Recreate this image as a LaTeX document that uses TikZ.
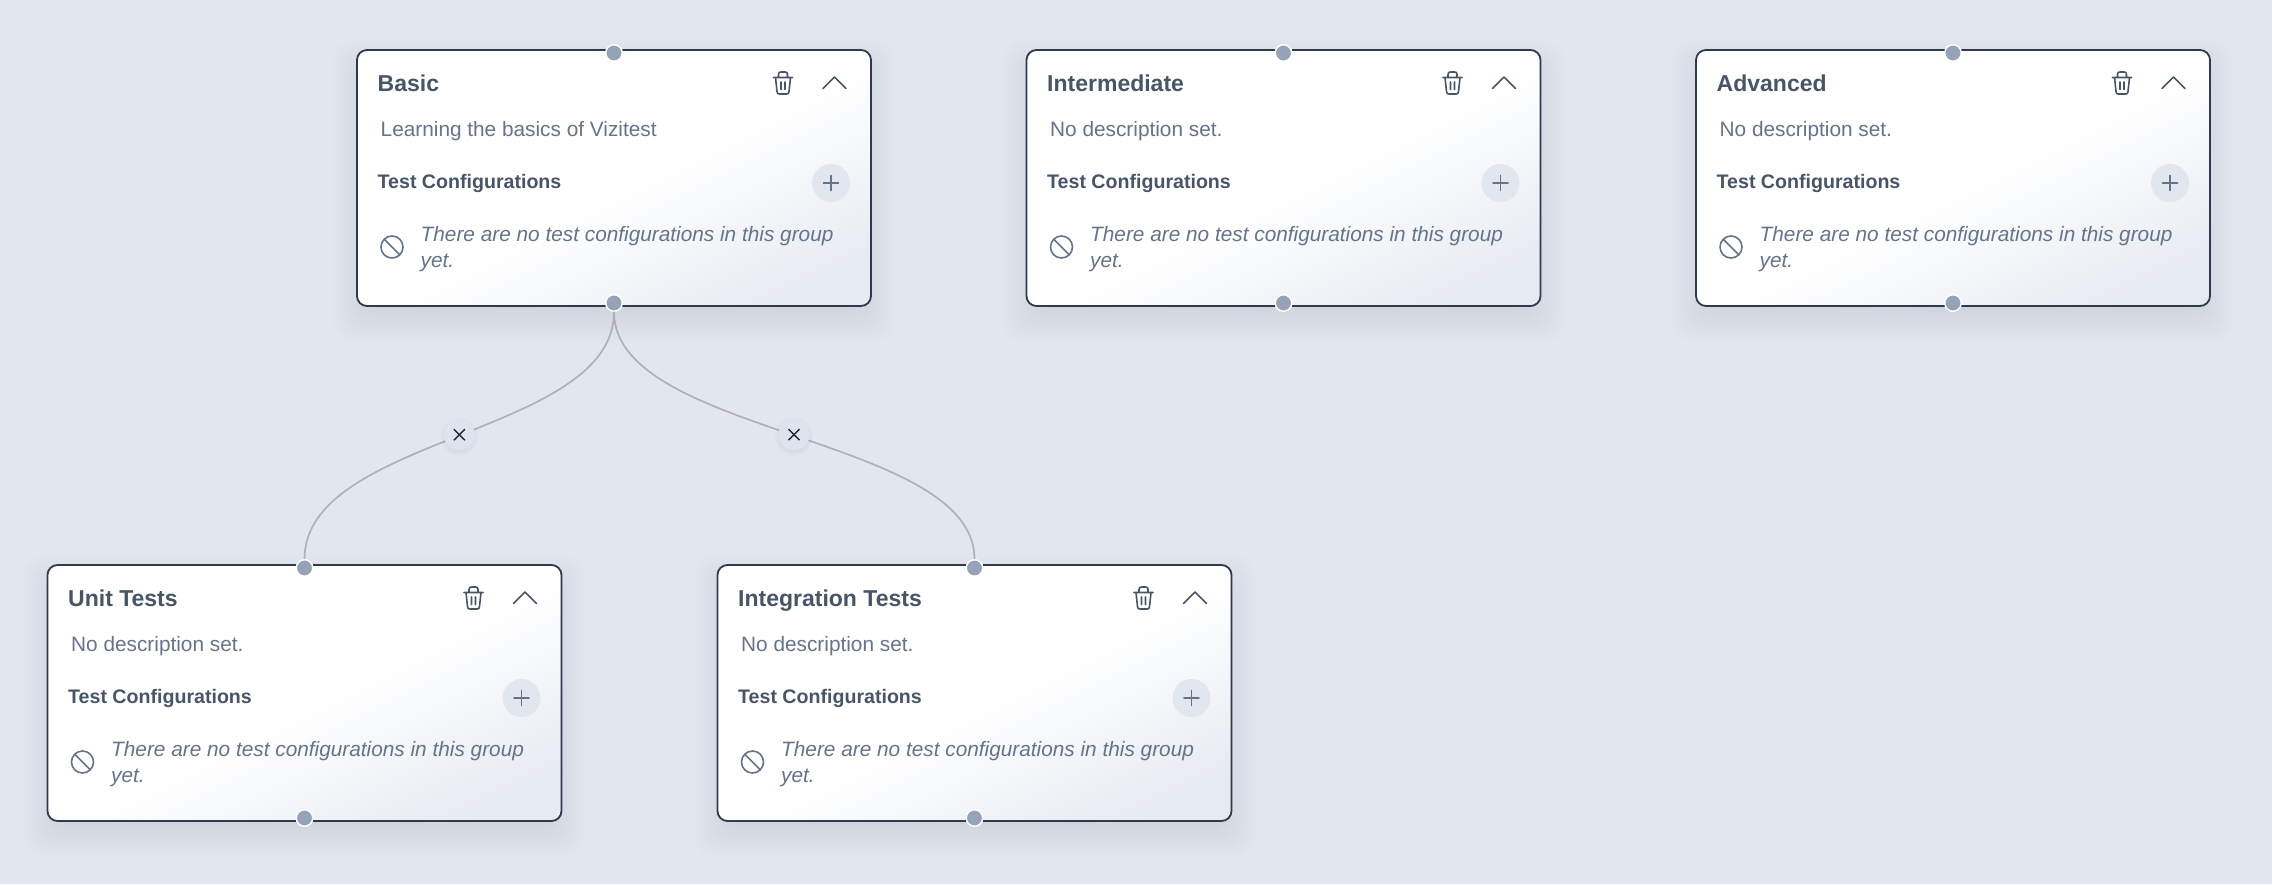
\documentclass[tikz,border=0pt]{standalone}
\usepackage{fontspec}
\setmainfont{Liberation Sans}
\usetikzlibrary{positioning}
\definecolor{pagebg}{HTML}{E2E7EF}
\definecolor{cardline}{HTML}{2F3A4E}
\definecolor{cardend}{HTML}{E6EAF1}
\definecolor{headtext}{HTML}{475569}
\definecolor{softtext}{HTML}{64748B}
\definecolor{portfill}{HTML}{94A3B8}
\definecolor{edgeline}{HTML}{B1B1B5}
\definecolor{crossline}{HTML}{1E293B}
\definecolor{dropfill}{HTML}{DEE4ED}
\pgfdeclareverticalshading{cardfade}{100bp}{
    color(0bp)=(cardend);
    color(22bp)=(cardend);
    color(48bp)=(white);
    color(100bp)=(white)
}
\tikzset{
    card/.style={
        draw=cardline,
        line width=1.8pt,
        rounded corners=10pt,
        shading=cardfade,
        shading angle=26.5,
        minimum width=514pt,
        minimum height=256pt,
        inner sep=0pt,
        outer sep=0pt,
        anchor=north west
    },
    port/.style={
        circle,
        fill=portfill,
        draw=white,
        line width=1.4pt,
        minimum size=16.5pt,
        inner sep=0pt
    },
    addbtn/.style={
        circle,
        fill=pagebg,
        minimum size=38pt,
        inner sep=0pt
    },
    dropbtn/.style={
        circle,
        fill=dropfill,
        minimum size=31pt,
        inner sep=0pt
    },
    grouptitle/.style={
        anchor=base west,
        inner sep=0pt,
        text=headtext,
        font=\fontsize{23}{27}\selectfont\bfseries
    },
    groupdesc/.style={
        anchor=base west,
        inner sep=0pt,
        text=softtext,
        font=\fontsize{20.8}{26}\selectfont
    },
    grouplabel/.style={
        anchor=base west,
        inner sep=0pt,
        text=headtext,
        font=\fontsize{19.6}{26}\selectfont\bfseries
    },
    emptynote/.style={
        anchor=west,
        inner sep=0pt,
        align=left,
        text=softtext,
        font=\fontsize{20.8}{26}\selectfont\itshape
    },
    glyph/.style={
        draw=headtext,
        line width=1.6pt,
        line cap=round,
        line join=round
    },
    softglyph/.style={
        draw=softtext,
        line width=1.6pt,
        line cap=round
    },
    relation/.style={
        draw=edgeline,
        line width=1.7pt
    }
}
\newcommand{\dropshadow}[2]{
    \foreach \grow in {24,22,...,-14}
        \fill[black, opacity=0.0052, rounded corners=18pt]
            (#1-\grow,#2+14-\grow) rectangle (#1+514+\grow,#2+256+12+\grow);
}
\newcommand{\groupcard}[5]{
    \dropshadow{#2}{#3}
    \begin{scope}[shift={(#2,#3)}]
        \node[card] (#1) at (0,0) {};
        \node[grouptitle] (#1title) at (20.5,41.7) {#4};
        \node[groupdesc] (#1desc) at (23.5,86) {#5};
        \node[grouplabel] (#1label) at (20.5,138.5) {Test Configurations};
        \node[emptynote] (#1note) at (63.5,198.7) {There are no test configurations in this group\\yet.};
        \node[addbtn] (#1add) at (474,133) {};
        \draw[softglyph] (466.5,133) -- (481.5,133) (474,125.5) -- (474,140.5);
        \draw[glyph] (466,38.5) -- (477.5,27) -- (489,38.5);
        \draw[glyph] (416.5,27.5) -- (435.5,27.5)
            (421.5,27.5) -- (421.5,24.5) .. controls (421.5,22.5) and (422.5,22) .. (424,22) -- (428,22) .. controls (429.5,22) and (430.5,22.5) .. (430.5,24.5) -- (430.5,27.5)
            (418.5,27.5) -- (420,41.5) .. controls (420,43.5) and (421,44) .. (422.5,44) -- (429.5,44) .. controls (431,44) and (432,43.5) .. (432,41.5) -- (433.5,27.5)
            (424,32) -- (424,39.5) (428,32) -- (428,39.5);
        \draw[softglyph] (35,197) circle (11pt) (27.3,189.3) -- (42.7,204.7);
        \node[port] (#1in) at (257,3) {};
        \node[port] (#1out) at (257,253) {};
    \end{scope}
}
\newcommand{\dropedge}[3]{
    \foreach \grow in {4,3,...,-3}
        \fill[black, opacity=0.006] (#2,#3+2) circle (15.5+\grow);
    \node[dropbtn] (#1) at (#2,#3) {};
    \draw[crossline, line width=1.4pt] (#1.center) +(-5.5,-5.5) -- +(5.5,5.5) +(-5.5,5.5) -- +(5.5,-5.5);
}
\begin{document}
\begin{tikzpicture}[
                    x=1pt,
                    y=-1pt
                ]
                \fill[pagebg] (0,0) rectangle (2272,884);

                \groupcard{basic}{357}{50}{Basic}{Learning the basics of Vizitest}
                \groupcard{intermediate}{1026.5}{50}{Intermediate}{No description set.}
                \groupcard{advanced}{1696}{50}{Advanced}{No description set.}
                \groupcard{unit}{47.5}{565}{Unit Tests}{No description set.}
                \groupcard{integration}{717.5}{565}{Integration Tests}{No description set.}

                \draw[relation] (basicout) .. controls (614,435.5) and (304.5,435.5) .. (unitin);
                \draw[relation] (basicout) .. controls (614,435.5) and (974.5,435.5) .. (integrationin);

                \dropedge{dropunit}{459.3}{434.7}
                \dropedge{dropintegration}{794}{434.7}
            \end{tikzpicture}
\end{document}
